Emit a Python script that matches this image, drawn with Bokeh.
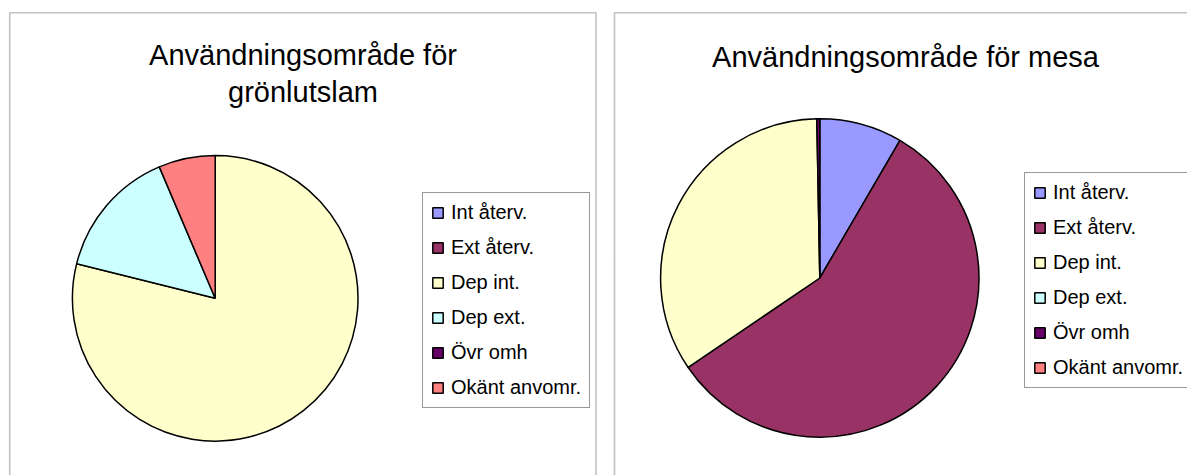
import math
from bokeh.plotting import figure
from bokeh.models import Range1d, Legend, LegendItem, Label, BoxAnnotation, ColumnDataSource
from bokeh.embed import file_html
from bokeh.resources import INLINE

# ---- data ----
categories = ["Int återv.", "Ext återv.", "Dep int.", "Dep ext.", "Övr omh", "Okänt anvomr."]
gronlutslam = [0, 0, 78.9, 14.7, 0, 6.4]
mesa = [8.4, 57.1, 34.2, 0, 0.3, 0]
colors = ["#9999FF", "#993366", "#FFFFCC", "#CCFFFF", "#660066", "#FF8080"]
title_left = ["Användningsområde för", "grönlutslam"]
title_right = "Användningsområde för mesa"

W, H = 1187, 475
FONT = "Liberation Sans"

p = figure(width=W, height=H, x_range=Range1d(0, W), y_range=Range1d(0, H),
           output_backend="svg", toolbar_location=None, min_border=0,
           x_axis_location=None, y_axis_location=None)
p.outline_line_color = None
p.xgrid.visible = False
p.ygrid.visible = False
p.background_fill_color = "white"
p.border_fill_color = "white"


def ypix(page_y):
    return H - page_y


def xpix(page_x):
    return page_x


def add_pie(values, cx, cy, r):
    total = float(sum(values))
    cum = 0.0
    starts, ends, radii = [], [], []
    for v in values:
        starts.append(math.pi / 2 - 2 * math.pi * cum / total)
        cum += v
        ends.append(math.pi / 2 - 2 * math.pi * cum / total)
        # an empty slice has no area to draw (keeps its legend entry)
        radii.append(r if v > 0 else 0)
    src = ColumnDataSource(dict(cat=categories, value=values, start=starts,
                                end=ends, radius=radii, color=colors))
    return p.wedge(x=cx, y=cy, radius="radius", start_angle="start", end_angle="end",
                   direction="clock", fill_color="color", line_color="black",
                   line_width=1.5, source=src)


def add_legend(renderer, loc):
    items = [LegendItem(label=c, renderers=[renderer], index=i)
             for i, c in enumerate(categories)]
    leg = Legend(items=items, location=loc, orientation="vertical",
                 glyph_width=13, glyph_height=13, label_standoff=7,
                 spacing=12, padding=8, margin=0,
                 border_line_color="#333333", border_line_width=1,
                 background_fill_color="white", background_fill_alpha=1.0,
                 label_text_font=FONT, label_text_font_size="20px",
                 label_text_color="black")
    p.add_layout(leg, "center")


# panel frames
for left, right in [(9.2, 595.5), (614, 1220)]:
    p.add_layout(BoxAnnotation(left=xpix(left), right=xpix(right),
                               top=ypix(12.2), bottom=-30,
                               fill_color=None, fill_alpha=0,
                               line_color="#333333", line_width=1.6))

# left pie
r1 = add_pie(gronlutslam, xpix(214.7), ypix(297.8), 142.8)
add_legend(r1, (422, ypix(408)))

# right pie
r2 = add_pie(mesa, xpix(819.3), ypix(277.5), 159.2)
add_legend(r2, (1024, ypix(388.3)))

# titles
for txt, x, y in [(title_left[0], 302.5, 54.3), (title_left[1], 302.5, 91.7),
                  (title_right, 905, 56.7)]:
    p.add_layout(Label(x=xpix(x), y=ypix(y), text=txt, text_align="center",
                       text_baseline="alphabetic", text_font=FONT,
                       text_font_size="29px", text_color="black"))

open("out.html", "w").write(file_html(p, INLINE))
